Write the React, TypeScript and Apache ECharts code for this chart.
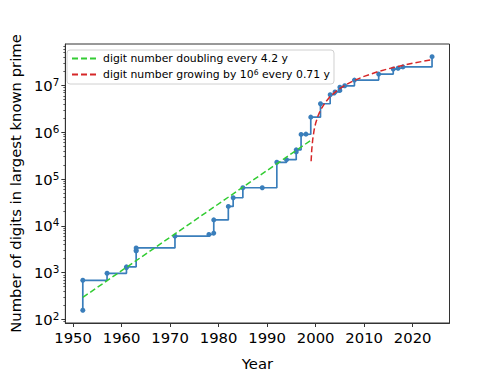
import React, { useEffect, useRef } from 'react';
import * as echarts from 'echarts';

// Record primes: year of discovery and number of decimal digits
const recordYears = [1952, 1952, 1957, 1961, 1961, 1963, 1963, 1963, 1971, 1978, 1979, 1979, 1982, 1983, 1985, 1989, 1992, 1994, 1996, 1996, 1997, 1998, 1999, 2001, 2003, 2004, 2005, 2005, 2006, 2008, 2013, 2016, 2017, 2018, 2024];
const recordDigits = [157, 687, 969, 1281, 1332, 2917, 2993, 3376, 6002, 6533, 6987, 13395, 25962, 39751, 65050, 65087, 227832, 258716, 378632, 420921, 895932, 909526, 2098960, 4053946, 6320430, 7235733, 7816230, 9152052, 9808358, 12978189, 17425170, 22338618, 23249425, 24862048, 41024320];

// Exponential fit
const greenYears = [1952, 1999.1];
const greenDigits = [296, 6.8e5];

// Linear fit
const redYears = [1999.07, 1999.2, 1999.4, 1999.7, 2000, 2000.5, 2001, 2002, 2003, 2004.5, 2006, 2008, 2010, 2013, 2016, 2019, 2022, 2024];
const redDigits = [2.4e5, 4.2e5, 7.0e5, 1.13e6, 1.55e6, 2.25e6, 2.96e6, 4.37e6, 5.77e6, 7.89e6, 1.0e7, 1.28e7, 1.56e7, 1.99e7, 2.41e7, 2.83e7, 3.25e7, 3.54e7];

const xTicks = [1950, 1960, 1970, 1980, 1990, 2000, 2010, 2020];
const yMajorTicks = [100, 1000, 1e4, 1e5, 1e6, 1e7];
const yMinorTicks = [90,
  200, 300, 400, 500, 600, 700, 800, 900,
  2000, 3000, 4000, 5000, 6000, 7000, 8000, 9000,
  2e4, 3e4, 4e4, 5e4, 6e4, 7e4, 8e4, 9e4,
  2e5, 3e5, 4e5, 5e5, 6e5, 7e5, 8e5, 9e5,
  2e6, 3e6, 4e6, 5e6, 6e6, 7e6, 8e6, 9e6,
  2e7, 3e7, 4e7, 5e7, 6e7, 7e7];

const GREEN_NAME = 'digit number doubling every 4.2 y';
const RED_NAME = 'digit number growing by 10^6 every 0.71 y';

export default function App() {
  const ref = useRef<HTMLDivElement>(null);
  useEffect(() => {
    const chart = echarts.init(ref.current!, null, { renderer: 'svg' });
    const font = 'DejaVu Sans';
    const axisColor = '#333';
    const yMin = 84;
    const yMax = 7.66e7;
    chart.setOption({
      animation: false,
      backgroundColor: '#fff',
      textStyle: { fontFamily: font },
      grid: { left: 62, right: 50.5, top: 44, bottom: 43, show: true, borderColor: axisColor, borderWidth: 1, backgroundColor: 'transparent' },
      legend: {
        data: [GREEN_NAME, RED_NAME],
        orient: 'vertical',
        left: 67,
        top: 50,
        padding: [3, 4, 4, 4],
        itemGap: 4,
        itemWidth: 26,
        itemHeight: 10,
        itemStyle: { opacity: 0 },
        borderColor: '#d0d0d0',
        borderWidth: 1,
        borderRadius: 3,
        backgroundColor: 'rgba(255,255,255,0.85)',
        textStyle: {
          fontFamily: font,
          fontSize: 10.85,
          color: '#000',
          rich: {
            s: { fontFamily: font, fontSize: 7.6, color: '#000', verticalAlign: 'top', lineHeight: 13 },
          },
        },
        formatter: (name: string) => (name === RED_NAME ? 'digit number growing by 10{s|6} every 0.71 y' : name),
      },
      xAxis: {
        type: 'value',
        min: 1948.4,
        max: 2027.6,
        name: 'Year',
        nameLocation: 'middle',
        nameGap: 33,
        nameTextStyle: { fontFamily: font, fontSize: 14.8, color: '#000' },
        axisLine: { show: true, lineStyle: { color: axisColor, width: 1 } },
        axisTick: { show: true, length: 4, customValues: xTicks, lineStyle: { color: axisColor } },
        axisLabel: { customValues: xTicks, margin: 7, fontFamily: font, fontSize: 14.8, color: '#000', formatter: (v: number) => String(Math.round(v)) },
        splitLine: { show: false },
      },
      yAxis: [
        {
          type: 'log',
          logBase: 10,
          min: yMin,
          max: yMax,
          name: 'Number of digits in largest known prime',
          nameLocation: 'middle',
          nameGap: 40,
          nameTextStyle: { fontFamily: font, fontSize: 14.8, color: '#000' },
          axisLine: { show: true, lineStyle: { color: axisColor, width: 1 } },
          axisTick: { show: true, length: 4, customValues: yMajorTicks, lineStyle: { color: axisColor } },
          axisLabel: {
            customValues: yMajorTicks,
            margin: 6,
            fontFamily: font,
            fontSize: 14.8,
            color: '#000',
            formatter: (v: number) => '10{s|' + Math.round(Math.log10(v)) + '}',
            rich: {
              s: { fontFamily: font, fontSize: 10.4, color: '#000', verticalAlign: 'top', lineHeight: 17 },
            },
          },
          splitLine: { show: false },
        },
        {
          type: 'log',
          logBase: 10,
          min: yMin,
          max: yMax,
          position: 'left',
          axisLine: { show: false },
          axisTick: { show: true, length: 2, customValues: yMinorTicks, lineStyle: { color: axisColor, width: 0.8 } },
          axisLabel: { show: false },
          splitLine: { show: false },
        },
      ],
      series: [
        {
          name: 'records',
          type: 'line',
          step: 'end',
          data: recordYears.map((y, i) => [y, recordDigits[i]]),
          symbol: 'circle',
          symbolSize: 5,
          showSymbol: true,
          lineStyle: { color: '#3a7ebb', width: 1.7 },
          itemStyle: { color: '#3a7ebb' },
          z: 2,
        },
        {
          name: GREEN_NAME,
          type: 'line',
          data: greenYears.map((y, i) => [y, greenDigits[i]]),
          symbol: 'none',
          lineStyle: { color: '#33cc33', width: 1.5, type: [6, 3] },
          itemStyle: { color: '#33cc33' },
          z: 3,
        },
        {
          name: RED_NAME,
          type: 'line',
          data: redYears.map((y, i) => [y, redDigits[i]]),
          symbol: 'none',
          smooth: false,
          lineStyle: { color: '#d62728', width: 1.5, type: [6, 3] },
          itemStyle: { color: '#d62728' },
          z: 3,
        },
      ],
    });
    return () => chart.dispose();
  }, []);
  return <div ref={ref} style={{ position: 'absolute', left: 0, top: 0, width: 500, height: 376 }} />;
}
